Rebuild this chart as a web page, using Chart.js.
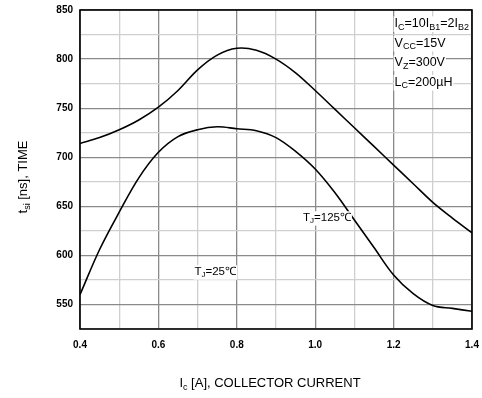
<!DOCTYPE html>
<html>
<head>
<meta charset="utf-8">
<script src="https://cdn.jsdelivr.net/npm/chart.js@4/dist/chart.umd.min.js"></script>
<style>
  html, body { margin: 0; padding: 0; background: #fff; }
  #wrap { width: 482px; height: 398px; }
</style>
</head>
<body>
<div id="wrap"><canvas id="graf"></canvas></div>
<script>
"use strict";

// collector current [A]
const strom = [0.4, 0.45, 0.5, 0.55, 0.6, 0.65, 0.7, 0.75, 0.8, 0.85, 0.9, 0.95, 1.0, 1.05, 1.1, 1.15, 1.2, 1.25, 1.3, 1.35, 1.4];
// storage time [ns]
const tid125 = [714, 720, 728, 738, 751, 768, 789, 804, 811, 809, 800, 786, 768, 749, 730, 711, 692, 673, 654, 638, 623];
const tid25  = [560, 606, 644, 679, 705, 721, 728, 731, 729, 727, 720, 706, 688, 664, 636, 608, 580, 561, 549, 546, 543];

const xTicks = [0.4, 0.6, 0.8, 1.0, 1.2, 1.4];
const yTicks = [550, 600, 650, 700, 750, 800, 850];

const betingelser = [
  [["I"], ["C", 1], ["=10I"], ["B1", 1], ["=2I"], ["B2", 1]],
  [["V"], ["CC", 1], ["=15V"]],
  [["V"], ["Z", 1], ["=300V"]],
  [["L"], ["C", 1], ["=200µH"]]
];

const FONT = "'Liberation Sans', Arial, sans-serif";

// draws text made of normal / subscript pieces, optional white box behind it
function tegnTekst(ctx, dele, x, y, size, align, bg) {
  const sub = Math.round(size * 0.72);
  let bredde = 0;
  dele.forEach(d => {
    ctx.font = `${d[1] ? sub : size}px ${FONT}`;
    bredde += ctx.measureText(d[0]).width;
  });
  let start = align === "center" ? x - bredde / 2 : x;
  if (bg) {
    ctx.fillStyle = "#fff";
    ctx.fillRect(start - 1, y - size * 0.85, bredde + 2, size * 1.25);
  }
  ctx.fillStyle = "#000";
  ctx.textBaseline = "alphabetic";
  ctx.textAlign = "left";
  dele.forEach(d => {
    ctx.font = `${d[1] ? sub : size}px ${FONT}`;
    ctx.fillText(d[0], start, y + (d[1] ? size * 0.2 : 0));
    start += ctx.measureText(d[0]).width;
  });
}

const tekstPlugin = {
  id: "tekster",
  afterDraw(chart) {
    const ctx = chart.ctx;
    const xs = chart.scales.x, ys = chart.scales.y;
    ctx.save();
    // condition box
    const x0 = xs.getPixelForValue(1.2) + 1;
    betingelser.forEach((linje, i) => {
      tegnTekst(ctx, linje, x0, 27 + i * 19.5, 12.5, "left", true);
    });
    // curve labels
    tegnTekst(ctx, [["T"], ["J", 1], ["=125℃"]], xs.getPixelForValue(1.03), ys.getPixelForValue(635), 11.5, "center", true);
    tegnTekst(ctx, [["T"], ["J", 1], ["=25℃"]], xs.getPixelForValue(0.745), ys.getPixelForValue(580), 11.5, "center", true);
    // axis titles
    tegnTekst(ctx, [["I"], ["c", 1], [" [A], COLLECTOR CURRENT"]], 270, 387, 13, "center", false);
    ctx.translate(27, 177);
    ctx.rotate(-Math.PI / 2);
    tegnTekst(ctx, [["t"], ["si", 1], [" [ns], TIME"]], 0, 0, 13, "center", false);
    ctx.restore();
  }
};

// frame around the plot area
const rammePlugin = {
  id: "ramme",
  afterDatasetsDraw(chart) {
    const a = chart.chartArea, ctx = chart.ctx;
    ctx.save();
    ctx.strokeStyle = "#000";
    ctx.lineWidth = 1.6;
    ctx.strokeRect(a.left, a.top, a.right - a.left, a.bottom - a.top);
    ctx.restore();
  }
};

new Chart(document.getElementById("graf").getContext("2d"), {
  type: "line",
  data: {
    datasets: [
      { data: strom.map((x, i) => ({ x, y: tid125[i] })), borderColor: "#000", borderWidth: 1.6, pointRadius: 0, tension: 0.35 },
      { data: strom.map((x, i) => ({ x, y: tid25[i] })),  borderColor: "#000", borderWidth: 1.6, pointRadius: 0, tension: 0.35 }
    ]
  },
  options: {
    responsive: true,
    maintainAspectRatio: false,
    animation: false,
    layout: { padding: { top: 10, right: 10, left: 0, bottom: 0 } },
    plugins: { legend: { display: false }, tooltip: { enabled: false } },
    scales: {
      x: {
        type: "linear", min: 0.4, max: 1.4,
        afterBuildTicks: ax => { ax.ticks = [0.4, 0.5, 0.6, 0.7, 0.8, 0.9, 1.0, 1.1, 1.2, 1.3, 1.4].map(v => ({ value: v })); },
        afterFit: ax => { ax.height = 69; ax.paddingLeft = 0; ax.paddingRight = 0; },
        grid: {
          drawTicks: false,
          color: c => (Math.round(c.tick.value * 10) % 2 === 0 ? "#8a8a8a" : "#cfcfcf"),
          lineWidth: 1.3
        },
        border: { display: false },
        ticks: {
          padding: 10, color: "#000", autoSkip: false, maxRotation: 0,
          font: { family: FONT, size: 10, weight: "bold" },
          callback: v => (xTicks.some(t => Math.abs(t - v) < 1e-6) ? v.toFixed(1) : "")
        }
      },
      y: {
        min: 525, max: 850,
        afterBuildTicks: ax => { const t = []; for (let v = 525; v <= 850; v += 25) t.push({ value: v }); ax.ticks = t; },
        afterFit: ax => { ax.width = 80; ax.paddingTop = 0; ax.paddingBottom = 0; },
        grid: {
          drawTicks: false,
          color: c => (c.tick.value % 50 === 0 ? "#8a8a8a" : "#cfcfcf"),
          lineWidth: 1.3
        },
        border: { display: false },
        ticks: {
          padding: 7, color: "#000", autoSkip: false,
          font: { family: FONT, size: 10, weight: "bold" },
          callback: v => (yTicks.includes(v) ? String(v) : "")
        }
      }
    }
  },
  plugins: [rammePlugin, tekstPlugin]
});
</script>
</body>
</html>
